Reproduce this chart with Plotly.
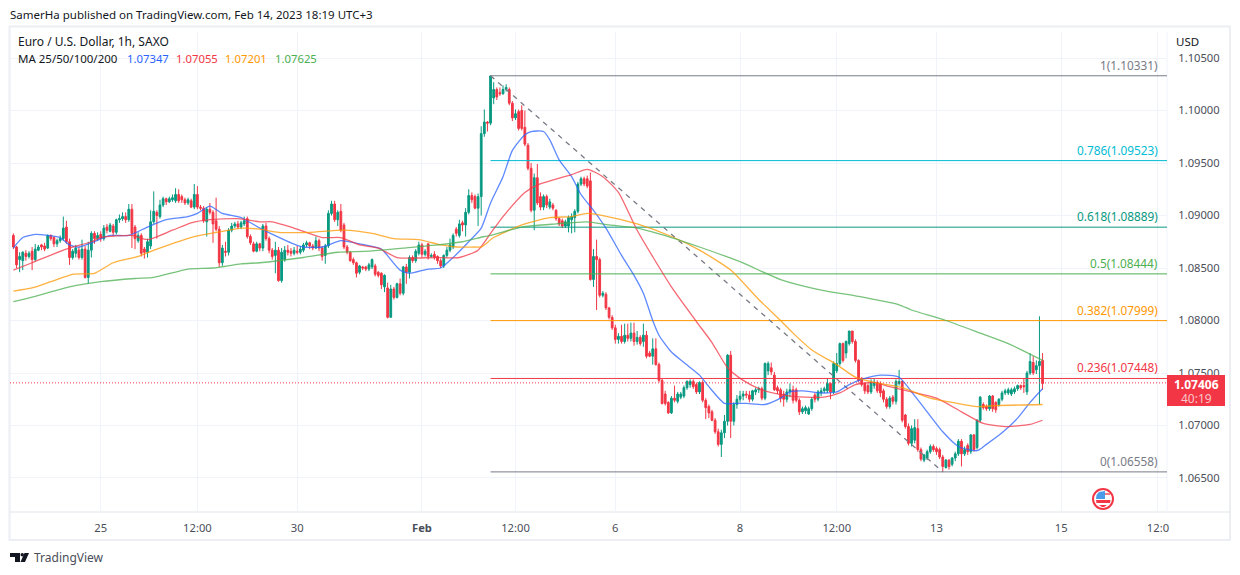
import numpy as np
import plotly.graph_objects as go

# Hourly EUR/USD candles, in 1/10000 of a dollar
open_pips = [
    10881,10870,10858,10857,10864,10861,10866,10858,10867,10872,
    10871,10869,10881,10879,10873,10876,10878,10889,10875,10860,
    10864,10867,10860,10868,10841,10867,10883,10878,10882,10878,
    10889,10885,10890,10884,10896,10897,10899,10896,10906,10889,
    10876,10881,10868,10865,10871,10894,10903,10899,10910,10916,
    10913,10915,10914,10920,10918,10915,10912,10914,10908,10920,
    10908,10907,10894,10906,10903,10895,10887,10855,10866,10865,
    10886,10890,10892,10889,10892,10897,10880,10873,10866,10873,
    10869,10890,10878,10867,10862,10867,10838,10858,10867,10866,
    10864,10866,10865,10867,10872,10874,10871,10869,10876,10869,
    10862,10871,10902,10911,10896,10904,10891,10870,10865,10858,
    10855,10846,10851,10851,10849,10851,10852,10846,10845,10832,
    10831,10803,10830,10822,10835,10826,10851,10846,10860,10857,
    10864,10872,10863,10873,10861,10863,10861,10857,10852,10862,
    10867,10870,10887,10881,10893,10891,10903,10919,10918,10907,
    10918,10978,10989,10988,11012,11020,11017,11016,11020,11020,
    11007,10993,10999,11000,10984,10967,10945,10905,10936,10918,
    10908,10918,10908,10910,10905,10897,10895,10890,10890,10896,
    10898,10904,10930,10935,10935,10933,10839,10861,10858,10824,
    10825,10812,10803,10793,10782,10785,10780,10786,10783,10788,
    10780,10784,10780,10786,10769,10766,10773,10758,10743,10730,
    10722,10712,10726,10723,10727,10728,10736,10739,10742,10739,
    10732,10741,10724,10718,10713,10705,10694,10682,10693,10704,
    10767,10704,10720,10725,10728,10730,10729,10725,10732,10734,
    10735,10726,10752,10755,10748,10736,10734,10730,10725,10732,
    10734,10734,10724,10713,10714,10711,10716,10729,10725,10731,
    10733,10733,10740,10732,10752,10759,10778,10769,10778,10790,
    10780,10762,10745,10740,10738,10732,10738,10741,10740,10733,
    10725,10718,10727,10723,10740,10742,10710,10699,10683,10686,
    10697,10677,10667,10669,10675,10680,10678,10677,10670,10660,
    10667,10663,10669,10673,10685,10673,10681,10675,10691,10679,
    10705,10720,10718,10716,10728,10722,10720,10725,10731,10731,
    10730,10732,10735,10738,10738,10732,10750,10760,10753,10757,10762,
]
high_pips = [
    10883,10871,10865,10866,10867,10866,10870,10873,10872,10873,
    10874,10882,10882,10880,10878,10881,10899,10895,10878,10868,
    10872,10870,10877,10871,10875,10885,10885,10884,10885,10891,
    10892,10893,10892,10897,10901,10903,10903,10911,10911,10891,
    10884,10883,10870,10878,10905,10923,10905,10915,10918,10917,
    10918,10920,10926,10925,10920,10917,10917,10916,10930,10928,
    10910,10909,10908,10912,10905,10917,10890,10872,10875,10888,
    10893,10894,10895,10895,10899,10899,10882,10875,10875,10874,
    10892,10893,10880,10869,10875,10870,10869,10871,10872,10869,
    10870,10871,10871,10874,10876,10875,10873,10880,10878,10871,
    10873,10905,10914,10914,10905,10911,10893,10872,10866,10860,
    10856,10853,10852,10852,10855,10859,10854,10847,10846,10844,
    10836,10834,10832,10836,10840,10852,10854,10862,10862,10868,
    10875,10874,10868,10874,10864,10866,10862,10859,10863,10870,
    10878,10883,10889,10896,10895,10907,10925,10922,10920,10921,
    10985,11001,10990,11033,11027,11022,11022,11024,11025,11022,
    11009,11001,11001,11005,11000,10969,10950,10940,10949,10922,
    10920,10920,10916,10912,10906,10898,10897,10896,10900,10902,
    10906,10932,10937,10937,10938,10941,10868,10877,10860,10828,
    10827,10813,10805,10796,10788,10796,10797,10797,10798,10798,
    10790,10786,10797,10790,10771,10783,10783,10760,10745,10733,
    10723,10728,10738,10732,10732,10738,10743,10744,10744,10741,
    10742,10743,10726,10720,10715,10707,10697,10696,10710,10768,
    10771,10722,10729,10733,10733,10733,10733,10734,10736,10737,
    10737,10760,10761,10760,10751,10738,10736,10733,10735,10740,
    10738,10736,10726,10718,10719,10718,10727,10731,10734,10736,
    10737,10745,10741,10761,10769,10779,10779,10781,10790,10790,
    10782,10763,10746,10741,10740,10744,10745,10743,10742,10735,
    10727,10728,10729,10744,10753,10743,10711,10702,10700,10706,
    10706,10679,10673,10677,10682,10682,10680,10679,10672,10668,
    10668,10670,10675,10687,10687,10680,10683,10692,10692,10706,
    10728,10722,10720,10729,10729,10723,10726,10733,10735,10736,
    10736,10737,10739,10739,10745,10752,10769,10766,10762,10804,10769,
]
low_pips = [
    10868,10850,10846,10848,10857,10859,10848,10856,10866,10867,
    10866,10868,10876,10870,10870,10874,10876,10873,10853,10858,
    10860,10858,10858,10840,10835,10860,10873,10876,10875,10876,
    10883,10884,10880,10882,10893,10895,10893,10894,10869,10868,
    10874,10861,10859,10860,10868,10892,10878,10897,10908,10910,
    10912,10913,10912,10912,10912,10910,10910,10907,10906,10906,
    10905,10893,10880,10901,10874,10885,10851,10852,10861,10862,
    10884,10888,10887,10887,10890,10878,10872,10865,10865,10866,
    10866,10876,10864,10858,10845,10837,10836,10856,10862,10861,
    10862,10863,10863,10865,10870,10868,10867,10868,10866,10857,
    10854,10869,10900,10894,10890,10884,10868,10863,10856,10853,
    10841,10844,10848,10847,10847,10849,10842,10841,10830,10827,
    10802,10803,10820,10821,10824,10824,10835,10840,10855,10855,
    10862,10860,10861,10858,10860,10858,10854,10850,10850,10860,
    10865,10868,10880,10879,10885,10880,10901,10912,10906,10890,
    10900,10975,10980,10986,11006,11010,11014,11015,11018,11005,
    10990,10991,10981,10981,10966,10943,10903,10886,10910,10905,
    10905,10907,10906,10905,10895,10890,10888,10888,10884,10883,
    10884,10902,10928,10928,10926,10838,10832,10810,10822,10822,
    10810,10801,10791,10778,10778,10778,10778,10780,10780,10776,
    10777,10776,10775,10764,10765,10758,10757,10741,10720,10719,
    10711,10711,10722,10721,10725,10726,10734,10736,10735,10730,
    10730,10722,10706,10707,10704,10692,10680,10670,10688,10700,
    10688,10700,10716,10722,10724,10726,10722,10723,10729,10731,
    10724,10724,10748,10748,10733,10730,10722,10718,10722,10727,
    10721,10722,10710,10711,10711,10710,10714,10722,10723,10728,
    10731,10731,10725,10730,10750,10757,10760,10764,10776,10778,
    10760,10741,10737,10730,10730,10730,10735,10731,10727,10722,
    10716,10716,10720,10720,10738,10703,10697,10681,10680,10683,
    10675,10666,10665,10667,10673,10675,10672,10668,10656,10659,
    10658,10661,10666,10671,10661,10671,10672,10673,10675,10677,
    10703,10715,10714,10714,10713,10712,10718,10723,10729,10729,
    10728,10730,10733,10734,10731,10729,10748,10748,10749,10720,10734,
]
close_pips = [
    10870,10853,10861,10865,10861,10864,10858,10868,10870,10870,
    10868,10881,10878,10873,10876,10878,10888,10875,10860,10866,
    10869,10860,10868,10841,10867,10883,10878,10881,10878,10888,
    10886,10891,10884,10896,10897,10899,10896,10906,10883,10878,
    10881,10864,10865,10875,10894,10904,10900,10910,10916,10913,
    10916,10917,10920,10914,10915,10912,10915,10908,10920,10908,
    10907,10895,10906,10903,10892,10887,10855,10869,10865,10886,
    10890,10892,10889,10893,10895,10880,10874,10866,10873,10869,
    10890,10878,10867,10861,10867,10838,10865,10867,10865,10864,
    10867,10865,10868,10872,10874,10871,10869,10876,10869,10861,
    10871,10902,10911,10896,10903,10886,10870,10865,10857,10855,
    10845,10852,10850,10849,10853,10858,10844,10843,10834,10843,
    10803,10830,10822,10835,10826,10851,10846,10860,10857,10866,
    10872,10863,10866,10861,10862,10860,10857,10852,10862,10867,
    10872,10881,10883,10892,10891,10903,10919,10915,10907,10918,
    10978,10989,10988,11033,11020,11013,11016,11020,11022,11007,
    10993,10997,10983,10983,10968,10945,10905,10936,10912,10908,
    10918,10910,10913,10907,10897,10892,10890,10894,10898,10899,
    10904,10930,10935,10930,10928,10839,10861,10858,10824,10826,
    10812,10803,10793,10782,10785,10780,10786,10783,10788,10780,
    10784,10778,10786,10766,10766,10773,10758,10743,10721,10721,
    10712,10726,10724,10730,10730,10736,10742,10742,10737,10732,
    10741,10724,10717,10712,10705,10694,10682,10693,10704,10767,
    10704,10720,10725,10728,10730,10729,10725,10733,10734,10735,
    10726,10759,10759,10751,10734,10733,10726,10725,10732,10734,
    10724,10724,10713,10716,10717,10716,10725,10725,10732,10733,
    10735,10740,10732,10759,10759,10778,10762,10780,10790,10780,
    10762,10743,10739,10733,10732,10741,10741,10733,10731,10725,
    10718,10726,10723,10742,10742,10705,10699,10683,10697,10698,
    10677,10668,10672,10675,10680,10677,10675,10670,10661,10667,
    10661,10669,10673,10685,10673,10677,10675,10691,10677,10705,
    10727,10717,10716,10728,10716,10715,10725,10731,10733,10734,
    10734,10735,10738,10736,10737,10750,10761,10750,10757,10761,10740,
]
assert len(open_pips) == len(high_pips) == len(low_pips) == len(close_pips)

# Moving averages, bar number and level
ma25_bars = [0,3,7,11,15,18,21,25,31,37,43,49,56,59,63,67,73,79,86,89,93,99,105,111,118,121,124,127,133,137,
             141,146,150,153,157,160,164,166,170,172,175,179,182,186,190,195,199,202,205,207,211,215,220,223,
             228,231,235,241,246,249,253,259,264,268,272,278,284,288,293,298,303,309,312,317,322,326,330]
ma25_pips = [10869,10879,10882,10881,10879,10872,10870,10874,10881,10881,10889,10896,10899,10902,10909,10902,
             10898,10888,10878,10874,10870,10870,10876,10873,10868,10858,10848,10845,10849,10850,10860,10875,
             10888,10912,10937,10962,10977,10980,10980,10972,10953,10937,10920,10905,10888,10862,10843,10826,
             10800,10786,10770,10760,10748,10737,10721,10721,10721,10720,10726,10732,10733,10731,10732,10739,
             10744,10748,10746,10732,10713,10694,10680,10676,10682,10693,10707,10722,10735]
ma50_bars = [0,6,16,19,25,28,38,43,51,57,63,72,79,83,90,99,105,111,117,123,135,143,149,153,157,164,168,179,184,
             189,194,200,211,219,224,229,234,240,247,254,260,265,270,276,281,288,296,304,311,318,326,330]
ma50_pips = [10848,10855,10867,10870,10875,10879,10881,10877,10886,10893,10896,10897,10894,10894,10888,10879,
             10879,10872,10869,10860,10860,10860,10867,10883,10899,10922,10929,10939,10944,10937,10922,10886,
             10832,10799,10779,10755,10743,10734,10729,10727,10727,10731,10739,10741,10737,10732,10726,10713,
             10702,10699,10701,10705]
ma100_bars = [0,6,12,19,26,32,40,46,58,67,73,79,85,95,106,115,122,130,137,142,148,150,154,163,172,179,184,189,
              200,211,220,230,239,246,250,256,264,270,276,285,294,301,309,315,330]
ma100_pips = [10828,10831,10837,10844,10845,10855,10861,10868,10880,10885,10888,10887,10884,10884,10886,10883,
              10878,10877,10872,10870,10870,10870,10879,10891,10898,10899,10902,10900,10892,10880,10867,10848,
              10820,10800,10788,10772,10758,10746,10741,10736,10726,10722,10718,10719,10720]
ma200_bars = [0,7,18,28,39,45,56,64,73,79,93,104,114,125,136,144,151,153,163,174,184,191,200,211,220,233,246,
              259,271,284,288,299,310,319,330]
ma200_pips = [10818,10823,10832,10837,10840,10841,10849,10850,10854,10855,10860,10865,10866,10869,10872,10875,
              10880,10881,10889,10892,10894,10891,10888,10879,10870,10856,10839,10829,10823,10815,10810,10800,
              10788,10778,10762]
ma_values = ["1.07347", "1.07055", "1.07201", "1.07625"]

# Fibonacci retracement
fib_names = ["1", "0.786", "0.618", "0.5", "0.382", "0.236", "0"]
fib_levels = [1.10331, 1.09523, 1.08889, 1.08444, 1.07999, 1.07448, 1.06558]
fib_colors = ["#787b86", "#00bcd4", "#089981", "#4caf50", "#ff9800", "#f23645", "#787b86"]
fib_start_bar = 153
fib_end_bar = 298

last_price = 1.07406
price_ticks = [1.065, 1.07, 1.075, 1.08, 1.085, 1.09, 1.095, 1.10, 1.105]
time_ticks = [28, 59, 91, 131, 161, 193, 233, 264, 296, 336, 367]
time_labels = ["25", "12:00", "30", "<b>Feb</b>", "12:00", "6", "8", "12:00", "13", "15", "12:0"]

FONT = "Noto Sans"
UP, DOWN = "#089981", "#f23645"
BLUE, ORANGE, GREEN = "#2962ff", "#ff9800", "#4caf50"
GRID = "#f0f3fa"
W, H = 1240, 575
X_RANGE = [-1.09, 369.9]


def px(x):
    return x / W


def py(y):
    return 1 - y / H


def box(x0, y0, x1, y1, **kw):
    return dict(type="rect", xref="paper", yref="paper", x0=px(x0), x1=px(x1), y0=py(y0), y1=py(y1), **kw)


def path(pts, **kw):
    d = "M" + " L".join(f"{px(a):.5f},{py(b):.5f}" for a, b in pts) + " Z"
    return dict(type="path", xref="paper", yref="paper", path=d, line=dict(width=0), **kw)


def text(x, y, s, color="#131722", size=12, anchor="left", yref="paper"):
    return dict(x=px(x), y=py(y) if yref == "paper" else y, xref="paper", yref=yref, text=s, showarrow=False,
                xanchor=anchor, yanchor="middle", font=dict(family=FONT, size=size, color=color))


fig = go.Figure()

bars = np.arange(len(open_pips))
fig.add_trace(go.Candlestick(
    x=bars,
    open=np.array(open_pips) / 10000,
    high=np.array(high_pips) / 10000,
    low=np.array(low_pips) / 10000,
    close=np.array(close_pips) / 10000,
    increasing=dict(line=dict(color=UP, width=1), fillcolor=UP),
    decreasing=dict(line=dict(color=DOWN, width=1), fillcolor=DOWN),
    whiskerwidth=0,
    hoverinfo="skip",
))

for name, level, color in zip(fib_names, fib_levels, fib_colors):
    fig.add_trace(go.Scatter(x=[fib_start_bar, X_RANGE[1]], y=[level, level], mode="lines",
                             line=dict(color=color, width=1), hoverinfo="skip"))

# dashed trend line between the two fib anchors
fig.add_trace(go.Scatter(x=[fib_start_bar, fib_end_bar], y=[fib_levels[0], fib_levels[-1]], mode="lines",
                         line=dict(color="#787b86", width=1.3, dash="5px,5px"), hoverinfo="skip"))

for b, p, color in [(ma25_bars, ma25_pips, BLUE), (ma50_bars, ma50_pips, DOWN),
                    (ma100_bars, ma100_pips, ORANGE), (ma200_bars, ma200_pips, GREEN)]:
    fig.add_trace(go.Scatter(x=b, y=np.array(p) / 10000, mode="lines",
                             line=dict(color=color, width=1.3, shape="spline", smoothing=0.6),
                             opacity=0.75, hoverinfo="skip"))

# last price dots
fig.add_trace(go.Scatter(x=X_RANGE, y=[last_price, last_price], mode="lines",
                         line=dict(color=DOWN, width=1, dash="1px,2px"), hoverinfo="skip"))

annotations = [
    text(8, 15, "SamerHa published on TradingView.com, Feb 14, 2023 18:19 UTC+3", size=11.5),
    text(16, 42, "Euro / U.S. Dollar, 1h, SAXO", size=12),
    text(16, 58, "MA 25/50/100/200", size=11.5),
    text(125, 58, ma_values[0], BLUE, 11.3),
    text(174, 58, ma_values[1], DOWN, 11.3),
    text(223, 58, ma_values[2], ORANGE, 11.3),
    text(273, 58, ma_values[3], GREEN, 11.3),
    text(1174, 41, "USD", size=11.5),
    text(32, 557, "TradingView", "#4a4e59", 12),
    text(1196, 384, "<b>1.07406</b>", "#ffffff", 12, "center"),
    text(1196, 398, "40:19", "#fbc5ca", 12, "center"),
]
for name, level, color in zip(fib_names, fib_levels, fib_colors):
    label = dict(text(1160, 0, f"{name}({level:.5f})", color, 11.8, "right", yref="y"), y=level, yshift=11)
    annotations.append(label)

shapes = [
    # frame of the chart
    box(9.5, 26.5, 1230, 540, line=dict(color="#eceef3", width=2), layer="below"),
    dict(type="line", xref="paper", yref="paper", x0=px(10), x1=px(1230), y0=py(512), y1=py(512),
         line=dict(color="#e0e3eb", width=1), layer="below"),
    dict(type="line", xref="paper", yref="paper", x0=px(1167), x1=px(1167), y0=py(32), y1=py(512),
         line=dict(color=GRID, width=1), layer="below"),
    # last price tag
    box(1167, 375, 1225, 406, fillcolor=DOWN, line=dict(width=0)),
    # flag marker
    dict(type="circle", xref="paper", yref="paper", x0=px(1093), x1=px(1113), y0=py(509), y1=py(489),
         fillcolor="#ffffff", line=dict(color=DOWN, width=2)),
    path([(1096, 499), (1096.5, 495), (1099, 492), (1105, 491), (1105, 499)], fillcolor="#4a9be8"),
    box(1105, 493, 1110, 495, fillcolor="#f77c80", line=dict(width=0)),
    path([(1096, 500), (1110.5, 500), (1110, 503), (1096.5, 503)], fillcolor=DOWN),
    path([(1099, 505), (1107, 505), (1104, 507), (1102, 507)], fillcolor=DOWN),
    # logo
    path([(10, 553), (20, 553), (20, 562), (15, 562), (15, 557), (10, 557)], fillcolor="#131722"),
    dict(type="circle", xref="paper", yref="paper", x0=px(20.5), x1=px(24), y0=py(556.5), y1=py(553),
         fillcolor="#131722", line=dict(width=0)),
    path([(24.5, 553), (29, 553), (25, 562), (20.5, 562)], fillcolor="#131722"),
]

AXIS_FONT = dict(family=FONT, size=11.2, color="#4a4e59")

fig.update_layout(
    width=W,
    height=H,
    margin=dict(l=0, r=0, t=0, b=0),
    paper_bgcolor="#ffffff",
    plot_bgcolor="#ffffff",
    showlegend=False,
    boxgap=0.2,
    shapes=shapes,
    annotations=annotations,
    font=dict(family=FONT, size=11.5, color="#131722"),
    xaxis=dict(
        domain=[px(10), px(1167)],
        range=X_RANGE,
        tickmode="array",
        tickvals=time_ticks,
        ticktext=time_labels,
        tickfont=AXIS_FONT,
        showgrid=True,
        gridcolor=GRID,
        gridwidth=1,
        zeroline=False,
        showline=False,
        ticks="outside",
        ticklen=6,
        tickcolor="rgba(0,0,0,0)",
        rangeslider=dict(visible=False),
        automargin=False,
    ),
    yaxis=dict(
        domain=[py(512), py(32)],
        range=[1.06176, 1.10748],
        side="right",
        tickmode="array",
        tickvals=price_ticks,
        tickformat=".5f",
        tickfont=AXIS_FONT,
        showgrid=True,
        gridcolor=GRID,
        gridwidth=1,
        zeroline=False,
        showline=False,
        ticks="outside",
        ticklen=8,
        tickcolor="rgba(0,0,0,0)",
        automargin=False,
    ),
)

fig.write_html("out.html", config=dict(displayModeBar=False),
               post_script="document.body.style.margin='0';")
